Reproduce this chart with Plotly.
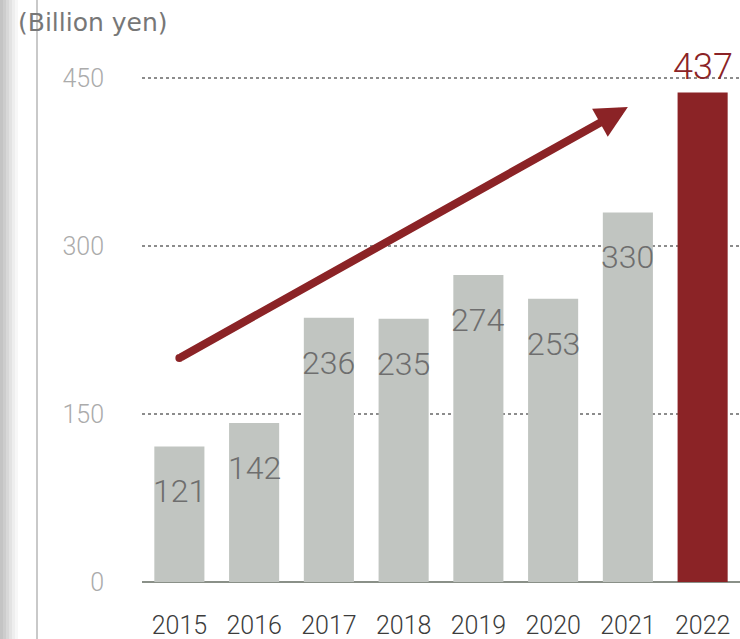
import plotly.graph_objects as go

# Annual figures (billion yen)
years = ["2015", "2016", "2017", "2018", "2019", "2020", "2021", "2022"]
values = [121, 142, 236, 235, 274, 253, 330, 437]
y_ticks = [0, 150, 300, 450]

# Trend arrow: from the 2015 column up to the 2021 column
arrow_from = ("2015", 200)
arrow_to = ("2021", 424)

GREY_BAR = "#c1c5c1"
RED = "#8b2326"
highlight = years[-1]

bar_colors = [RED if y == highlight else GREY_BAR for y in years]

fig = go.Figure()
fig.add_trace(go.Bar(
    x=years, y=values,
    marker=dict(color=bar_colors, line=dict(width=0)),
    hoverinfo="skip",
))

# value labels: inside near top for grey bars, above the highlighted bar
for i, (y, v) in enumerate(zip(years, values)):
    if y == highlight:
        fig.add_annotation(x=i, y=v, xref="x", yref="y", text=str(v),
                           showarrow=False, yshift=26,
                           font=dict(family="Roboto", size=36, weight=300, color=RED))
    else:
        fig.add_annotation(x=i, y=v, xref="x", yref="y", text=str(v),
                           showarrow=False, yshift=-45,
                           font=dict(family="Roboto", size=32, weight=300, color="#6e6e6e"))

# trend arrow
fig.add_annotation(
    x=years.index(arrow_to[0]), y=arrow_to[1],
    ax=years.index(arrow_from[0]), ay=arrow_from[1],
    xref="x", yref="y", axref="x", ayref="y",
    showarrow=True, arrowhead=2, arrowsize=0.8, arrowwidth=8,
    arrowcolor=RED, text="",
)
# rounded tail of the arrow
fig.add_trace(go.Scatter(
    x=[arrow_from[0]], y=[arrow_from[1]], mode="markers",
    marker=dict(size=8, color=RED), hoverinfo="skip",
))

# unit caption
fig.add_annotation(
    xref="paper", yref="paper", x=-0.211, y=1.0526,
    xanchor="left", yanchor="middle", showarrow=False,
    text="(Billion yen)", font=dict(family="DejaVu Sans", size=25, color="#777777"),
)

# vertical rule at the left and soft page-edge shading
fig.add_shape(type="line", xref="paper", yref="paper",
              x0=-0.1756, x1=-0.1756, y0=-0.2, y1=1.2,
              line=dict(color="#c9c9c9", width=2))
edge_shades = ["#c4c4c4", "#cdcdcd", "#d8d8d8", "#e3e3e3", "#eeeeee", "#f7f7f7"]
px_w = 598.0
for i, c in enumerate(edge_shades):
    x0 = (0 + 3 * i - 142) / px_w
    x1 = (3 + 3 * i - 142) / px_w
    fig.add_shape(type="rect", xref="paper", yref="paper",
                  x0=x0, x1=x1, y0=-0.2, y1=1.2,
                  line=dict(width=0), fillcolor=c, layer="below")

fig.update_layout(
    width=740, height=639,
    margin=dict(l=142, r=0, t=50, b=57),
    paper_bgcolor="white", plot_bgcolor="white",
    showlegend=False, bargap=0.33,
    xaxis=dict(
        type="category", range=[-0.5, 7.5], showgrid=False, showline=False,
        ticks="", ticklabelstandoff=26,
        tickfont=dict(family="Roboto", size=25, color="#3c3c3c", weight=300),
        fixedrange=True,
    ),
    yaxis=dict(
        range=[0, 475], tickvals=y_ticks, ticktext=[str(t) for t in y_ticks],
        showgrid=True, gridcolor="#8c8c8c", gridwidth=2, griddash="dot",
        zeroline=True, zerolinecolor="#8a9088", zerolinewidth=2,
        showline=False, ticks="", ticklabelstandoff=37,
        tickfont=dict(family="Roboto", size=25, color="#ababab", weight=300),
        fixedrange=True,
    ),
)

fig.write_html("out.html")
